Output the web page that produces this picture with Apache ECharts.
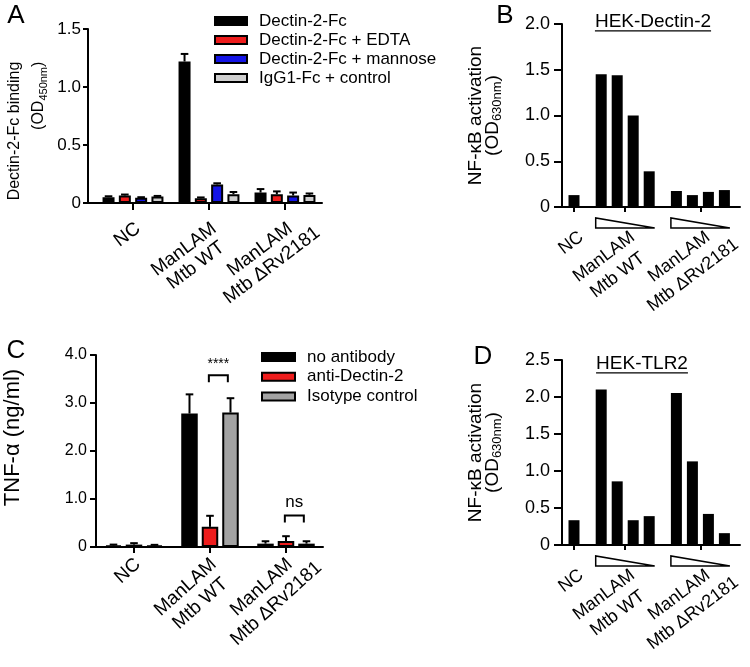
<!DOCTYPE html>
<html><head><meta charset="utf-8">
<script src="https://cdn.jsdelivr.net/npm/echarts@6/dist/echarts.min.js"></script>
<style>html,body{margin:0;padding:0;background:#fff}#c{width:750px;height:667px}</style>
</head><body><div id="c"></div>
<script>
// ================= DATA =================
const groups = ['NC', 'ManLAM\nMtb WT', 'ManLAM\nMtb ΔRv2181'];

// Panel A
const seriesA = ['Dectin-2-Fc', 'Dectin-2-Fc + EDTA', 'Dectin-2-Fc + mannose', 'IgG1-Fc + control'];
const dectinFc        = [0.05, 1.22, 0.09];
const dectinFcEDTA    = [0.065, 0.04, 0.075];
const dectinFcMannose = [0.045, 0.16, 0.065];
const igg1FcControl   = [0.055, 0.075, 0.07];
const errDectinFc        = [0.008, 0.065, 0.03];
const errDectinFcEDTA    = [0.008, 0.008, 0.025];
const errDectinFcMannose = [0.005, 0.01, 0.025];
const errIgg1FcControl   = [0.006, 0.02, 0.012];
const ticksA = [0, 0.5, 1.0, 1.5];

// Panel B (HEK-Dectin-2), decreasing ManLAM concentration
const hekDectin2NC    = [0.13];
const hekDectin2WT    = [1.45, 1.44, 1.0, 0.39];
const hekDectin2Delta = [0.175, 0.13, 0.165, 0.185];
const ticksB = [0, 0.5, 1.0, 1.5, 2.0];

// Panel C
const seriesC = ['no antibody', 'anti-Dectin-2', 'Isotype control'];
const noAntibody    = [0.03, 2.78, 0.07];
const antiDectin2   = [0.05, 0.42, 0.125];
const isotypeCtrl   = [0.03, 2.80, 0.07];
const errNoAntibody  = [0.02, 0.40, 0.05];
const errAntiDectin2 = [0.03, 0.23, 0.10];
const errIsotypeCtrl = [0.015, 0.30, 0.05];
const sigGroups = [1, 2];
const sigLevels = [3.58, 0.655];
const sigLabels = ['****', 'ns'];
const ticksC = [0, 1.0, 2.0, 3.0, 4.0];

// Panel D (HEK-TLR2)
const hekTLR2NC    = [0.335];
const hekTLR2WT    = [2.10, 0.86, 0.335, 0.39];
const hekTLR2Delta = [2.055, 1.13, 0.42, 0.16];
const ticksD = [0, 0.5, 1.0, 1.5, 2.0, 2.5];

// ================= LAYOUT / STYLE =================
const FONT = '"Liberation Sans", Arial, Helvetica, sans-serif';
const RED = '#ee1c1c', BLUE = '#1414e6', LGRAY = '#cfcfcf', DGRAY = '#a3a3a3';
const valsA = [dectinFc, dectinFcEDTA, dectinFcMannose, igg1FcControl];
const errsA = [errDectinFc, errDectinFcEDTA, errDectinFcMannose, errIgg1FcControl];
const colorsA = ['#000', RED, BLUE, LGRAY];
const valsC = [noAntibody, antiDectin2, isotypeCtrl];
const errsC = [errNoAntibody, errAntiDectin2, errIsotypeCtrl];
const colorsC = ['#000', RED, DGRAY];

const pitchA = 16.3 / 76, pitchC = 20.5 / 76;
const offA = s => (s - 1.5) * pitchA;
const offC = s => (s - 1) * pitchC;
const centersBD = [0, 3.2, 7.9];
const halfBarBD = 11 / 16 / 2;
function posBD(g, k, n) { return centersBD[g] + (k - (n - 1) / 2); }
function barDataBD(nc, wt, dl) {
  const out = [];
  [nc, wt, dl].forEach((arr, g) => arr.forEach((v, k) => out.push([posBD(g, k, arr.length), v])));
  return out;
}

const ctx = document.createElement('canvas').getContext('2d');
function textW(t, size) { ctx.font = size + 'px ' + FONT; return ctx.measureText(t).width; }
function yFmt(v) { return v === 0 ? '0' : v.toFixed(1); }

// rotated multi-line category labels: first line ends at uEnd (along the text direction),
// following lines are centred under it; v1 = distance of line-1 centre from the axis (across the text)
function xLabelSpec(key, size, lh, uEnd, v1, rotDeg) {
  const th = rotDeg * Math.PI / 180, m = -22;
  const uA = -m * Math.sin(th), vA = m * Math.cos(th);
  const rich = {};
  const texts = groups.map((g, i) => {
    const lines = g.split('\n');
    const w1 = textW(lines[0], size);
    return lines.map((l, j) => {
      const w = textW(l, size);
      const uj = j === 0 ? uEnd : uEnd + (w - w1) / 2;
      const nm = key + i + '_' + j;
      rich[nm] = { fontSize: size, fontFamily: FONT, color: '#000', align: 'right', lineHeight: lh, padding: [0, Math.max(0, uA - uj), 0, 0] };
      return '{' + nm + '|' + l + '}';
    }).join('\n');
  });
  return { texts: texts, rich: rich, padding: [Math.max(0, v1 - vA - lh / 2), 0, 0, 0], margin: m, size: size, rot: rotDeg };
}

const axisLine = { show: true, onZero: false, lineStyle: { color: '#000', width: 2 } };

function xAxisCfg(grid, min, max, tickVals, spec, tickLen) {
  return {
    gridIndex: grid, type: 'value', min: min, max: max,
    axisLine: axisLine,
    axisTick: { show: true, customValues: tickVals, length: tickLen, lineStyle: { color: '#000', width: 2 } },
    axisLabel: {
      customValues: tickVals, rotate: spec.rot, align: 'right', verticalAlign: 'top', margin: spec.margin, padding: spec.padding,
      formatter: v => { const i = tickVals.findIndex(p => Math.abs(p - v) < 1e-6); return i < 0 ? '' : spec.texts[i]; },
      rich: spec.rich, fontSize: spec.size, fontFamily: FONT, color: '#000'
    },
    splitLine: { show: false }
  };
}
function yAxisCfg(grid, ticks, size, tickLen, margin, name, nameGap, nameStyle) {
  return {
    gridIndex: grid, type: 'value', min: ticks[0], max: ticks[ticks.length - 1], interval: ticks[1] - ticks[0],
    axisLine: axisLine,
    axisTick: { show: true, length: tickLen, lineStyle: { color: '#000', width: 2 } },
    axisLabel: { formatter: yFmt, fontSize: size, fontFamily: FONT, color: '#000', margin: margin },
    splitLine: { show: false },
    name: name, nameLocation: 'middle', nameRotate: 90, nameGap: nameGap, nameTextStyle: nameStyle
  };
}
// two-line axis title: h = first line, t = main text of line 2, s = subscript (pushed down by padding)
function nameRich(size, subSize, align, padding, lh1, lh2, subPad) {
  return {
    padding: padding,
    rich: {
      h: { fontSize: size, fontFamily: FONT, color: '#000', align: align, lineHeight: lh1 },
      t: { fontSize: size, fontFamily: FONT, color: '#000', align: align, lineHeight: lh2 },
      s: { fontSize: subSize, fontFamily: FONT, color: '#000', align: align, lineHeight: lh2 - subPad, padding: [subPad, 0, 0, 0] }
    }
  };
}

function errRender(params, api) {
  const x = api.value(0), v = api.value(1), e = api.value(2);
  const p0 = api.coord([x, v]), p1 = api.coord([x, v + e]);
  const hw = 3.8;
  return { type: 'group', children: [
    { type: 'line', shape: { x1: p0[0], y1: p0[1], x2: p1[0], y2: p1[1] }, style: { stroke: '#000', lineWidth: 2 } },
    { type: 'line', shape: { x1: p1[0] - hw, y1: p1[1], x2: p1[0] + hw, y2: p1[1] }, style: { stroke: '#000', lineWidth: 2 } }
  ] };
}
function wedgeRender(params, api) {
  const a = api.coord([api.value(0), 0]), b = api.coord([api.value(1), 0]);
  const y0 = a[1] + 11, y1 = a[1] + 21;
  return { type: 'polygon', shape: { points: [[a[0], y0], [a[0], y1], [b[0], y1]] }, style: { fill: '#fff', stroke: '#000', lineWidth: 1.5 } };
}
function sigRender(params, api) {
  const x1 = api.value(0), x2 = api.value(1), y = api.value(2);
  const p1 = api.coord([x1, y]), p2 = api.coord([x2, y]);
  const lab = sigLabels[params.dataIndex];
  const star = lab.indexOf('*') >= 0;
  return { type: 'group', children: [
    { type: 'polyline', shape: { points: [[p1[0], p1[1] + 7], [p1[0], p1[1]], [p2[0], p2[1]], [p2[0], p2[1] + 7]] }, style: { stroke: '#000', lineWidth: 2, fill: null } },
    { type: 'text', x: (p1[0] + p2[0]) / 2, y: p1[1] - (star ? 11 : 13), style: { text: lab, font: (star ? 14 : 17) + 'px ' + FONT, fill: '#000', align: 'center', verticalAlign: 'middle' } }
  ] };
}

const series = [];
valsA.forEach((vals, s) => {
  series.push({ type: 'bar', name: seriesA[s], xAxisIndex: 0, yAxisIndex: 0, barWidth: 12, barGap: '-100%',
    itemStyle: { color: colorsA[s], borderColor: '#000', borderWidth: 2 },
    data: vals.map((v, g) => [g + offA(s), v]) });
});
series.push({ type: 'custom', xAxisIndex: 0, yAxisIndex: 0, z: 5, renderItem: errRender, encode: { x: 0, y: 1 },
  data: valsA.flatMap((vals, s) => vals.map((v, g) => [g + offA(s), v, errsA[s][g]])) });

series.push({ type: 'bar', name: 'HEK-Dectin-2', xAxisIndex: 1, yAxisIndex: 1, barWidth: 11, itemStyle: { color: '#000' },
  data: barDataBD(hekDectin2NC, hekDectin2WT, hekDectin2Delta) });
series.push({ type: 'custom', xAxisIndex: 1, yAxisIndex: 1, renderItem: wedgeRender, encode: { x: [0, 1], y: 2 },
  data: [1, 2].map(g => [posBD(g, 0, 4) - halfBarBD, posBD(g, 3, 4) + halfBarBD, 0]) });

valsC.forEach((vals, s) => {
  series.push({ type: 'bar', name: seriesC[s], xAxisIndex: 2, yAxisIndex: 2, barWidth: 16.5, barGap: '-100%',
    itemStyle: { color: colorsC[s], borderColor: '#000', borderWidth: 2 },
    data: vals.map((v, g) => [g + offC(s), v]) });
});
series.push({ type: 'custom', xAxisIndex: 2, yAxisIndex: 2, z: 5, renderItem: errRender, encode: { x: 0, y: 1 },
  data: valsC.flatMap((vals, s) => vals.map((v, g) => [g + offC(s), v, errsC[s][g]])) });
series.push({ type: 'custom', xAxisIndex: 2, yAxisIndex: 2, z: 5, renderItem: sigRender, encode: { x: [0, 1], y: 2 },
  data: sigGroups.map((g, i) => [g + offC(1) - 0.015, g + offC(2) - 0.035, sigLevels[i]]) });

series.push({ type: 'bar', name: 'HEK-TLR2', xAxisIndex: 3, yAxisIndex: 3, barWidth: 11, itemStyle: { color: '#000' },
  data: barDataBD(hekTLR2NC, hekTLR2WT, hekTLR2Delta) });
series.push({ type: 'custom', xAxisIndex: 3, yAxisIndex: 3, renderItem: wedgeRender, encode: { x: [0, 1], y: 2 },
  data: [1, 2].map(g => [posBD(g, 0, 4) - halfBarBD, posBD(g, 3, 4) + halfBarBD, 0]) });

const legendBase = {
  orient: 'vertical', padding: 0, itemWidth: 32, itemHeight: 8, itemGap: 1, icon: 'rect', selectedMode: false,
  itemStyle: { borderColor: '#000', borderWidth: 2 },
  textStyle: { fontSize: 17, fontFamily: FONT, color: '#000', padding: [0, 0, 0, 7], lineHeight: 18 }
};

function titleGraphics(txt, cx, cy, size) {
  const w = textW(txt, size);
  return [
    { type: 'text', x: cx, y: cy, style: { text: txt, font: size + 'px ' + FONT, fill: '#000', align: 'center', verticalAlign: 'middle', textAlign: 'center', textVerticalAlign: 'middle' } },
    { type: 'line', shape: { x1: cx - w / 2, y1: cy + size * 0.47, x2: cx + w / 2, y2: cy + size * 0.47 }, style: { stroke: '#000', lineWidth: 1.2 } }
  ];
}
function letter(t, cx, cy) {
  return { type: 'text', x: cx, y: cy, style: { text: t, font: '26px ' + FONT, fill: '#000', align: 'center', verticalAlign: 'middle', textAlign: 'center', textVerticalAlign: 'middle' } };
}

const specA = xLabelSpec('a', 19, 20, -10, 22, 37);
const specB = xLabelSpec('b', 18, 23, -11, 27, 37);
const specC = xLabelSpec('c', 19, 22, -7, 13.5, 42);
const specD = xLabelSpec('d', 18, 23, -11, 27, 37);

const nameA = '{h|Dectin-2-Fc binding}\n{t|(OD}{s|450nm}{t|)}';
const nameBD = '{h|NF-κB activation}\n{t|(OD}{s|630nm}{t|)}';

const option = {
  animation: false,
  backgroundColor: '#fff',
  grid: [
    { left: 88, top: 29, width: 234, height: 174 },
    { left: 562, top: 24, width: 178, height: 183 },
    { left: 96, top: 355, width: 227, height: 192 },
    { left: 562, top: 360, width: 178, height: 185 }
  ],
  xAxis: [
    xAxisCfg(0, -0.592, 2.487, [0, 1, 2], specA, 7),
    xAxisCfg(1, -0.75, 10.375, centersBD, specB, 5),
    xAxisCfg(2, -0.5, 2.487, [0, 1, 2], specC, 6),
    xAxisCfg(3, -0.75, 10.375, centersBD, specD, 5)
  ],
  yAxis: [
    yAxisCfg(0, ticksA, 17, 5, 7, nameA, 39, nameRich(16, 11, 'right', [0, 30, 0, 0], 29, 20, 9)),
    yAxisCfg(1, ticksB, 18, 8, 12, nameBD, 58.5, nameRich(19, 13, 'center', [0, 0, 0, 0], 13, 21, 8)),
    yAxisCfg(2, ticksC, 16, 6, 9, '{h|TNF-α (ng/ml)}', 71, nameRich(22, 13, 'center', [0, 0, 0, 27], 24, 24, 4)),
    yAxisCfg(3, ticksD, 18, 8, 12, nameBD, 58.5, nameRich(19, 13, 'center', [0, 0, 0, 0], 13, 21, 8))
  ],
  legend: [
    Object.assign({}, legendBase, { data: seriesA, left: 214, top: 12 }),
    Object.assign({}, legendBase, { data: seriesC, left: 261, top: 348, itemWidth: 33, itemGap: 1.7 })
  ],
  graphic: [
    letter('A', 16, 16), letter('B', 505, 16), letter('C', 16, 351), letter('D', 483, 357),
    ...titleGraphics('HEK-Dectin-2', 653, 22, 19),
    ...titleGraphics('HEK-TLR2', 642, 364, 19)
  ],
  series: series
};

const chart = echarts.init(document.getElementById('c'), null, { renderer: 'canvas' });
chart.setOption(option);
</script>
</body></html>
